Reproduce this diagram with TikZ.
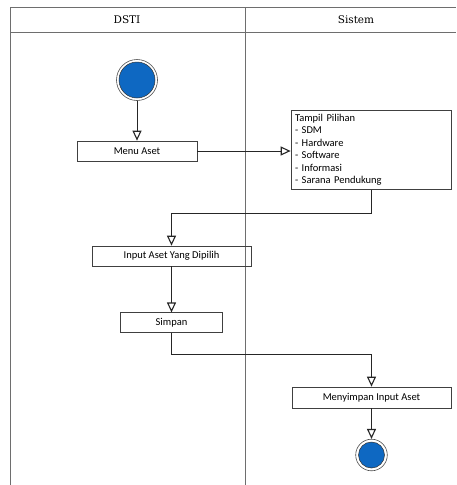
\documentclass[tikz,border=0pt]{standalone}
\usepackage{fontspec}
\setmainfont{Carlito}
\newfontfamily\headfont{DejaVu Serif}
\usetikzlibrary{arrows.meta}
\definecolor{dotblue}{RGB}{14,104,194}
\definecolor{framegray}{RGB}{110,110,110}
\tikzset{
  lane/.style={draw=framegray, line width=0.9pt},
  actbox/.style={draw=black!75, line width=0.7pt, rectangle, minimum height=20pt, inner sep=0pt, font=\fontsize{10.5}{12.5}\selectfont},
  headlbl/.style={font=\headfont\fontsize{10.5}{12}\selectfont},
  flow/.style={draw=black!85, line width=0.7pt, -{Triangle[open, length=10pt, width=9pt, line width=1.1pt]}},
  ringout/.style={circle, draw=black!70, line width=0.6pt, fill=white, inner sep=0pt},
  dotin/.style={circle, draw=black!80, line width=0.5pt, fill=dotblue, inner sep=0pt}
}
\begin{document}
\begin{tikzpicture}[x=1pt, y=-1pt]
\useasboundingbox (0,0) rectangle (456,485);
\fill[white] (0,0) rectangle (456,485);
% swimlane frame
\draw[lane] (10,485) -- (10,7) -- (456,7);
\draw[lane] (10,32) -- (456,32);
\draw[lane] (245,7) -- (245,485);
\node[headlbl] (h1) at (127,20) {DSTI};
\node[headlbl] (h2) at (356,20) {Sistem};
% start
\node[ringout, minimum size=41pt] (start) at (137,80) {};
\node[dotin, minimum size=36pt] (startdot) at (137,80) {};
% activities
\node[actbox, minimum width=120pt, minimum height=20pt] (menu) at (137,151) {Menu Aset};
\node[actbox, minimum width=160pt, minimum height=79pt, align=left, text width=152pt, inner xsep=4pt, inner ysep=1pt] (tampil) at (371,150) {Tampil Pilihan\\- SDM\\- Hardware\\- Software\\- Informasi\\- Sarana Pendukung};
\node[actbox, minimum width=159pt, minimum height=20pt] (input) at (171.5,256) {Input Aset Yang Dipilih};
\node[actbox, minimum width=102pt, minimum height=19.5pt] (simpan) at (171.5,322.5) {Simpan};
\node[actbox, minimum width=159pt, minimum height=21pt] (menyimpan) at (371.5,397.5) {Menyimpan Input Aset};
% end
\node[ringout, minimum size=31.6pt] (finish) at (371.5,455) {};
\node[dotin, minimum size=26pt] (finishdot) at (371.5,455) {};
% connectors
\draw[flow] (start.south) -- (menu.north);
\draw[flow] (menu.east) -- (menu.east -| tampil.west);
\draw[flow] (tampil.south) -- ++(0,23) -| (input.north);
\draw[flow] (input.south) -- (simpan.north);
\draw[flow] (simpan.south) -- ++(0,22) -| (menyimpan.north);
\draw[flow] (menyimpan.south) -- (finish.north);
\end{tikzpicture}
\end{document}
